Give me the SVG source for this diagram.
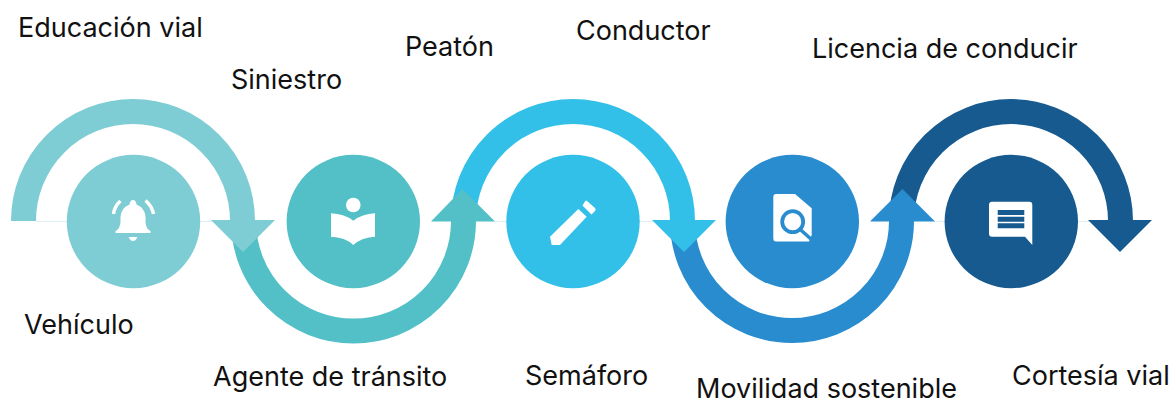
<svg xmlns="http://www.w3.org/2000/svg" width="1173" height="405" viewBox="0 0 1173 405">
<style>
.lab{font-family:"Inter","Liberation Sans",sans-serif;font-size:27px;fill:#111}
.arc{fill:none;stroke-width:25}
.faint{stroke:#dcEFF5;stroke-width:1;fill:none}
.ic{fill:#fff}
.c1{stroke:#7fcdd4}.c2{stroke:#52c0c6}.c3{stroke:#32c0e8}.c4{stroke:#288ccf}.c5{stroke:#165a8f}
.f1{fill:#7fcdd4}.f2{fill:#52c0c6}.f3{fill:#32c0e8}.f4{fill:#288ccf}.f5{fill:#165a8f}
</style>
<rect width="1173" height="405" fill="#fff"/>
<g id="connectors">
<path class="faint" d="M36 221.500H70M198 221.500H212M494 221.500H508M638 221.500H654M934 221.500H948M1076 221.500H1090"/>
<path class="arc c1" d="M23.500 221A109.500 109.500 0 0 1 242.500 221"/>
<path class="arc c2" d="M243.500 221A109.500 109.500 0 0 0 463.500 221"/>
<path class="arc c3" d="M463.500 221A109.500 109.500 0 0 1 682.500 221"/>
<path class="arc c4" d="M682.500 221A109.500 109.500 0 0 0 901.500 221"/>
<path class="arc c5" d="M901.500 221A109.500 109.500 0 0 1 1120.500 221"/>
<polygon class="f1" points="211,220 275,220 243,252"/>
<polygon class="f2" points="431,221.500 495,221.500 462.500,189"/>
<polygon class="f3" points="652,220 716,220 684,252"/>
<polygon class="f4" points="870,221.500 935,221.500 902.500,189"/>
<polygon class="f5" points="1088,220 1152,220 1120,252"/>
</g>
<g id="node-vehiculo">
<circle class="f1" cx="133.500" cy="221.500" r="66.700"/>
<path class="ic" d="M115.500 233V231Q120 229 120.500 222V217Q121 208 129.500 204.500Q130 200 133 200Q136 200 136.500 204.500Q145 208 145.500 217V222Q146 229 150.500 231V233ZM128.700 237H137.300Q136 241 133 241Q130 241 128.700 237Z"/>
<path d="M113.500 214Q114.500 206 120.500 201M145.500 200.500Q152 206 153.500 214" fill="none" stroke="#fff" stroke-width="3.500"/>
</g>
<g id="node-agente">
<circle class="f2" cx="353.300" cy="221.500" r="66.700"/>
<circle class="ic" cx="353.300" cy="205" r="7.300"/>
<path class="ic" d="M331 213.300Q345 214 353.300 220.700Q362 214 375 213.300V236.700Q362 237 353.300 245Q345 237 331 236.700Z"/>
</g>
<g id="node-semaforo">
<circle class="f3" cx="573" cy="221.500" r="66.700"/>
<path class="ic" d="M578.300 209L586.700 216.700L560 245H551.700L550 236.700ZM587 201L595 208Q596.500 209.500 595 211L591.500 214.500L582.500 205.500L585 201.500Q586 200 587 201Z"/>
</g>
<g id="node-movilidad">
<circle class="f4" cx="792.300" cy="221.500" r="66.700"/>
<path class="ic" d="M776 194H795L811.700 208.300V235L809 241.500H776Q773.300 241.500 773.300 238V197Q773.300 194 776 194Z"/>
<circle cx="792.700" cy="221.700" r="10.500" fill="#fff" stroke="#288ccf" stroke-width="3.800"/>
<path d="M800 229.300L812 240" stroke="#288ccf" stroke-width="3.500" fill="none"/>
</g>
<g id="node-cortesia">
<circle class="f5" cx="1011.300" cy="221.500" r="66.700"/>
<path class="ic" d="M992 201.700H1029.300Q1032.300 201.700 1032.300 204.700V245L1025 236.700H992Q989 236.700 989 233.700V204.700Q989 201.700 992 201.700Z"/>
<path class="f5" d="M997.700 210H1024.300V215H997.700ZM997.700 216.700H1024.300V221.700H997.700ZM997.700 223.300H1024.300V228.300H997.700Z"/>
</g>
<g id="labels">
<text class="lab" x="18" y="37">Educación vial</text>
<text class="lab" x="231" y="89">Siniestro</text>
<text class="lab" x="405" y="56">Peatón</text>
<text class="lab" x="576" y="40">Conductor</text>
<text class="lab" x="812" y="58">Licencia de conducir</text>
<text class="lab" x="24" y="334">Vehículo</text>
<text class="lab" x="213" y="386">Agente de tránsito</text>
<text class="lab" x="525" y="385">Semáforo</text>
<text class="lab" x="696" y="398">Movilidad sostenible</text>
<text class="lab" x="1012" y="385">Cortesía vial</text>
</g>
</svg>
